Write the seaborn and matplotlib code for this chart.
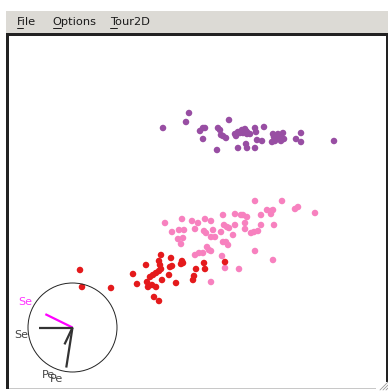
import matplotlib
matplotlib.use("Agg")
import matplotlib.pyplot as plt
from matplotlib.patches import Rectangle, Circle
import seaborn as sns
import pandas as pd

# ---- data (projected tour coordinates, screen units) ----
purple_x = [163, 189, 186, 200, 203, 205, 203, 218, 220, 221, 223, 226, 229, 217, 235, 238, 242, 245, 247, 243,
            238, 246, 247, 246, 247, 250, 255, 256, 264, 257, 262, 255, 273, 276, 278, 281, 283, 284, 272, 275,
            281, 296, 301, 301, 334, 240, 236, 279, 274, 244]
purple_y = [128, 113, 122, 131, 128, 128, 139, 128, 130, 135, 136, 138, 120, 150, 134, 132, 130, 129, 132, 133,
            148, 144, 148, 131, 134, 134, 128, 132, 127, 140, 141, 148, 134, 138, 134, 137, 133, 139, 142, 141,
            141, 139, 133, 142, 141, 133, 136, 136, 137, 131]

pink_x = [165, 172, 179, 184, 182, 178, 183, 181, 192, 198, 195, 205, 211, 204, 206, 213, 211, 215, 223, 221,
          224, 227, 229, 235, 241, 243, 247, 235, 245, 245, 233, 207, 209, 211, 223, 226, 228, 195, 199, 203,
          222, 225, 239, 211, 255, 282, 295, 298, 315, 267, 271, 273, 271, 261, 274, 261, 251, 254, 258, 255, 273]
pink_y = [223, 232, 230, 230, 219, 239, 238, 244, 221, 223, 229, 219, 221, 231, 233, 230, 237, 237, 215, 232,
          225, 227, 228, 214, 215, 215, 217, 225, 223, 229, 235, 247, 250, 251, 242, 242, 245, 255, 253, 253,
          256, 268, 269, 282, 201, 201, 209, 207, 213, 210, 211, 210, 214, 215, 225, 225, 233, 232, 231, 251, 260]

red_x = [80, 82, 111, 133, 137, 161, 171, 182, 181, 183, 204, 225, 196, 205, 159, 160, 161, 170, 172, 146,
         156, 153, 150, 159, 169, 162, 194, 193, 176, 147, 148, 152, 156, 154, 159]
red_y = [270, 287, 288, 274, 284, 255, 258, 261, 264, 263, 263, 262, 269, 269, 261, 265, 269, 267, 266, 265,
         273, 275, 277, 271, 275, 280, 276, 280, 283, 282, 287, 285, 287, 297, 301]

groups = ["a", "b", "c"]
colors = ["#984ea3", "#f781bf", "#e41a1c"]

# tour axes: variable labels and projection coefficients (fraction of circle radius)
var_labels = ["Se", "Se", "Pe", "Pe"]
var_dx = [-0.61, -0.76, -0.18, -0.14]
var_dy = [-0.30, 0.00, 0.38, 0.90]
var_colors = ["#ff00ff", "#333333", "#333333", "#333333"]

menu_items = ["File", "Options", "Tour2D"]

# ---- figure ----
sns.set_theme(style="white")
plt.rcParams["font.family"] = ["DejaVu Sans"]
fig = plt.figure(figsize=(3.88, 3.91), dpi=100)
ax = fig.add_axes([0, 0, 1, 1])
ax.set_xlim(0, 388)
ax.set_ylim(391, 0)
ax.axis("off")

# window chrome
ax.add_patch(Rectangle((6, 10.5), 382, 23, facecolor="#dcdad5", edgecolor="none", zorder=0))
ax.add_patch(Rectangle((6, 10.5), 382, 0.8, facecolor="#eeede9", edgecolor="none", zorder=0))
ax.add_patch(Rectangle((6, 33.3), 382, 356, facecolor="#222222", edgecolor="none", zorder=0))
ax.add_patch(Rectangle((9, 35.8), 377, 353.5, facecolor="white", edgecolor="none", zorder=0))
ax.add_patch(Rectangle((9, 388.3), 367, 1.0, facecolor="#c8c8c8", edgecolor="none", zorder=0))
ax.add_patch(Rectangle((376, 382), 12, 9, facecolor="white", edgecolor="none", zorder=0))
for k in range(3):
    ax.plot([386 - 3 * k, 388], [390, 388 - 3 * k], color="#9a9a9a", lw=0.6, zorder=1)

menu_x = [16.7, 52.3, 110]
under_w = [6, 8.5, 6.5]
for lbl, mx, uw in zip(menu_items, menu_x, under_w):
    ax.text(mx, 22, lbl, fontsize=8.2, color="#1a1a1a", ha="left", va="center")
    ax.plot([mx + 0.3, mx + uw], [28.3, 28.3], color="#1a1a1a", lw=0.7)

# scatter
df = pd.DataFrame({
    "x": purple_x + pink_x + red_x,
    "y": purple_y + pink_y + red_y,
    "g": ["a"] * len(purple_x) + ["b"] * len(pink_x) + ["c"] * len(red_x),
})
sns.scatterplot(data=df, x="x", y="y", hue="g", hue_order=groups,
                palette=dict(zip(groups, colors)), s=22, linewidth=0,
                legend=False, ax=ax, zorder=3)
ax.set_xlim(0, 388)
ax.set_ylim(391, 0)
ax.axis("off")

# tour axes circle
cx, cy, r = 72.5, 327.5, 44.5
ax.add_patch(Circle((cx, cy), r, fill=False, edgecolor="#222222", lw=0.7, zorder=4))
for dx, dy, c in zip(var_dx, var_dy, var_colors):
    ax.plot([cx, cx + dx * r], [cy, cy + dy * r], color=c, lw=1.6, zorder=5,
            solid_capstyle="butt")
label_pos = [(18.3, 302.3), (14.0, 335.0), (41.5, 375.5), (50.0, 379.0)]
for lbl, c, (lx, ly) in zip(var_labels, var_colors, label_pos):
    tc = "#ff33ff" if c == "#ff00ff" else "#444444"
    ax.text(lx, ly, lbl, fontsize=8, color=tc, ha="left", va="center", zorder=6)

fig.savefig("out.png", dpi=100)
